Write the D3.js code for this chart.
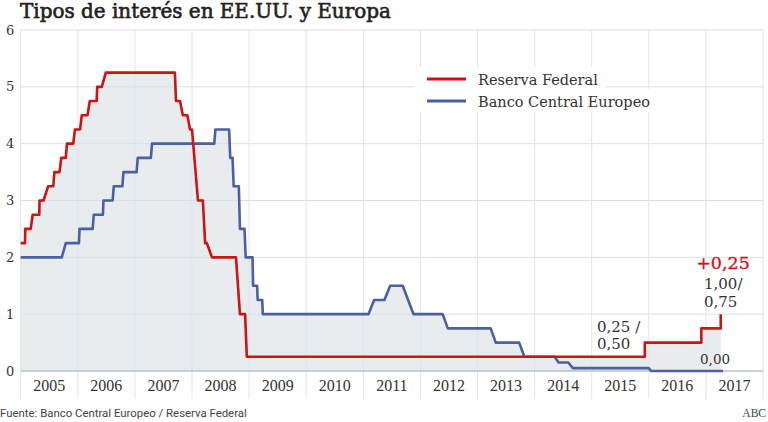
<!DOCTYPE html>
<html>
<head>
<meta charset="utf-8">
<script src="https://cdn.jsdelivr.net/npm/d3@7"></script>
<style>
  html, body { margin: 0; padding: 0; background: #fff; }
  svg { display: block; }
</style>
</head>
<body>
<svg id="chart" width="768" height="422"></svg>
<script>
// ---- Data ----
const years = [2005, 2006, 2007, 2008, 2009, 2010, 2011, 2012, 2013, 2014, 2015, 2016, 2017];
const yTicks = [0, 1, 2, 3, 4, 5, 6];

// Reserva Federal: vertices of the drawn line (decimal year, rate %)
const fedDates = [2005.00, 2005.075, 2005.08, 2005.175, 2005.21, 2005.325, 2005.33, 2005.40, 2005.48, 2005.57,
                  2005.59, 2005.68, 2005.71, 2005.79, 2005.81, 2005.92, 2005.95, 2006.04, 2006.07, 2006.17,
                  2006.21, 2006.33, 2006.34, 2006.42, 2006.49, 2007.70, 2007.72, 2007.79, 2007.84, 2007.92,
                  2007.965, 2008.00, 2008.105, 2008.19, 2008.23, 2008.26, 2008.35, 2008.77, 2008.84, 2008.93,
                  2008.96, 2015.93, 2015.93, 2016.92, 2016.92, 2017.26, 2017.26];
const fedRates = [2.25, 2.25, 2.50, 2.50, 2.75, 2.75, 3.00, 3.00, 3.25, 3.25,
                  3.50, 3.50, 3.75, 3.75, 4.00, 4.00, 4.25, 4.25, 4.50, 4.50,
                  4.75, 4.75, 5.00, 5.00, 5.25, 5.25, 4.75, 4.75, 4.50, 4.50,
                  4.25, 4.25, 3.00, 3.00, 2.25, 2.25, 2.00, 2.00, 1.00, 1.00,
                  0.25, 0.25, 0.50, 0.50, 0.75, 0.75, 1.00];

// Banco Central Europeo: vertices of the drawn line
const ecbDates = [2005.00, 2005.72, 2005.79, 2006.02, 2006.03, 2006.26, 2006.28, 2006.44, 2006.45, 2006.61,
                  2006.63, 2006.78, 2006.80, 2007.03, 2007.05, 2007.28, 2007.30, 2008.39, 2008.41, 2008.65,
                  2008.67, 2008.71, 2008.73, 2008.82, 2008.84, 2008.92, 2008.94, 2009.06, 2009.07, 2009.14,
                  2009.15, 2009.23, 2009.24, 2011.09, 2011.19, 2011.37, 2011.47, 2011.69, 2011.88, 2012.39,
                  2012.48, 2013.23, 2013.32, 2013.73, 2013.82, 2014.35, 2014.42, 2014.59, 2014.67, 2016.00,
                  2016.04, 2017.30];
const ecbRates = [2.00, 2.00, 2.25, 2.25, 2.50, 2.50, 2.75, 2.75, 3.00, 3.00,
                  3.25, 3.25, 3.50, 3.50, 3.75, 3.75, 4.00, 4.00, 4.25, 4.25,
                  3.75, 3.75, 3.25, 3.25, 2.50, 2.50, 2.00, 2.00, 1.50, 1.50,
                  1.25, 1.25, 1.00, 1.00, 1.25, 1.25, 1.50, 1.50, 1.00, 1.00,
                  0.75, 0.75, 0.50, 0.50, 0.25, 0.25, 0.15, 0.15, 0.05, 0.05,
                  0.00, 0.00];

const seriesNames = ["Reserva Federal", "Banco Central Europeo"];
const seriesColors = ["#cc1414", "#4a60a1"];

const titleText = "Tipos de interés en EE.UU. y Europa";
const sourceText = "Fuente: Banco Central Europeo / Reserva Federal";
const brandText = "ABC";

// ---- Build ----
const fed = fedDates.map((d, i) => ({ t: d, v: fedRates[i] }));
const ecb = ecbDates.map((d, i) => ({ t: d, v: ecbRates[i] }));

const svg = d3.select("#chart");
const x = d3.scaleLinear().domain([2005, 2018]).range([20.7, 763]);
const y = d3.scaleLinear().domain([0, 6]).range([371, 30]);

const serif = "'DejaVu Serif', serif";

// fill: union of the areas under both series (area under the upper envelope)
const area = d3.area().x(d => x(d.t)).y0(y(0)).y1(d => y(d.v));
[fed, ecb].forEach(s => {
  svg.append("path").datum(s).attr("fill", "#e8ecef").attr("d", area);
});

// grid
const grid = svg.append("g");
grid.selectAll("line.h").data(yTicks.filter(d => d > 0)).join("line")
  .attr("x1", x(2005)).attr("x2", x(2018))
  .attr("y1", d => y(d)).attr("y2", d => y(d))
  .attr("stroke", "#d9e0e6").attr("stroke-width", 1);
grid.selectAll("line.v").data(d3.range(2005, 2019)).join("line")
  .attr("x1", d => x(d)).attr("x2", d => x(d))
  .attr("y1", y(6)).attr("y2", 399)
  .attr("stroke", "#dfe5ea").attr("stroke-width", 1);
grid.append("line")
  .attr("x1", x(2005)).attr("x2", x(2018))
  .attr("y1", y(0)).attr("y2", y(0))
  .attr("stroke", "#b7c2cb").attr("stroke-width", 1.5);

// y axis labels
svg.append("g").selectAll("text").data(yTicks).join("text")
  .attr("x", 6).attr("y", d => y(d)).attr("dy", "0.35em")
  .attr("font-family", serif).attr("font-size", 13).attr("fill", "#333")
  .text(d => d);

// x axis labels
svg.append("g").selectAll("text").data(years).join("text")
  .attr("x", d => x(d + 0.5)).attr("y", 391)
  .attr("text-anchor", "middle")
  .attr("font-family", "'Liberation Serif', serif").attr("font-size", 16).attr("fill", "#333")
  .text(d => d);

// lines
const line = d3.line().x(d => x(d.t)).y(d => y(d.v));
svg.append("path").datum(ecb).attr("fill", "none").attr("stroke", seriesColors[1])
  .attr("stroke-width", 2.6).attr("stroke-linejoin", "round").attr("d", line);
svg.append("path").datum(fed).attr("fill", "none").attr("stroke", seriesColors[0])
  .attr("stroke-width", 2.6).attr("stroke-linejoin", "round").attr("d", line);

// legend
const leg = svg.append("g");
const legY = [79, 101];
seriesNames.forEach((name, i) => {
  const g = leg.append("g");
  const bg = g.append("rect").attr("fill", "#fff");
  g.append("line").attr("x1", 427).attr("x2", 466).attr("y1", legY[i]).attr("y2", legY[i])
    .attr("stroke", seriesColors[i]).attr("stroke-width", 3);
  const t = g.append("text").attr("x", 478).attr("y", legY[i] + 6)
    .attr("font-family", serif).attr("font-size", 14.5).attr("fill", "#333").text(name);
  const w = t.node().getComputedTextLength();
  bg.attr("x", 414).attr("y", legY[i] - 12).attr("width", 478 + w + 8 - 414).attr("height", 23);
});

// annotations
const ann = svg.append("g").attr("font-family", serif).attr("fill", "#333");
ann.append("text").attr("x", x(2017.30)).attr("y", 269).attr("text-anchor", "middle")
  .attr("font-size", 17.5).attr("fill", seriesColors[0])
  .attr("stroke", seriesColors[0]).attr("stroke-width", 0.3).text("+0,25");
ann.append("text").attr("x", 704).attr("y", 289).attr("font-size", 15).text("1,00/");
ann.append("text").attr("x", 704).attr("y", 307).attr("font-size", 15).text("0,75");
ann.append("text").attr("x", 597).attr("y", 332).attr("font-size", 15).text("0,25 /");
ann.append("text").attr("x", 597).attr("y", 349).attr("font-size", 15).text("0,50");
ann.append("text").attr("x", 700).attr("y", 364).attr("font-size", 13.5).text("0,00");

// title
const title = svg.append("text").attr("x", 20).attr("y", 18)
  .attr("font-family", serif).attr("font-size", 18)
  .attr("fill", "#222").attr("stroke", "#222").attr("stroke-width", 0.6)
  .text(titleText);
const tw = title.node().getComputedTextLength();
title.attr("font-size", 18 * 371 / tw);

// footer
svg.append("text").attr("x", 0).attr("y", 417)
  .attr("font-family", "Roboto, sans-serif").attr("font-size", 11.4).attr("fill", "#444")
  .text(sourceText);
svg.append("text").attr("x", 766).attr("y", 417).attr("text-anchor", "end")
  .attr("font-family", "'Liberation Serif', serif").attr("font-size", 11.5).attr("fill", "#444")
  .text(brandText);
</script>
</body>
</html>
